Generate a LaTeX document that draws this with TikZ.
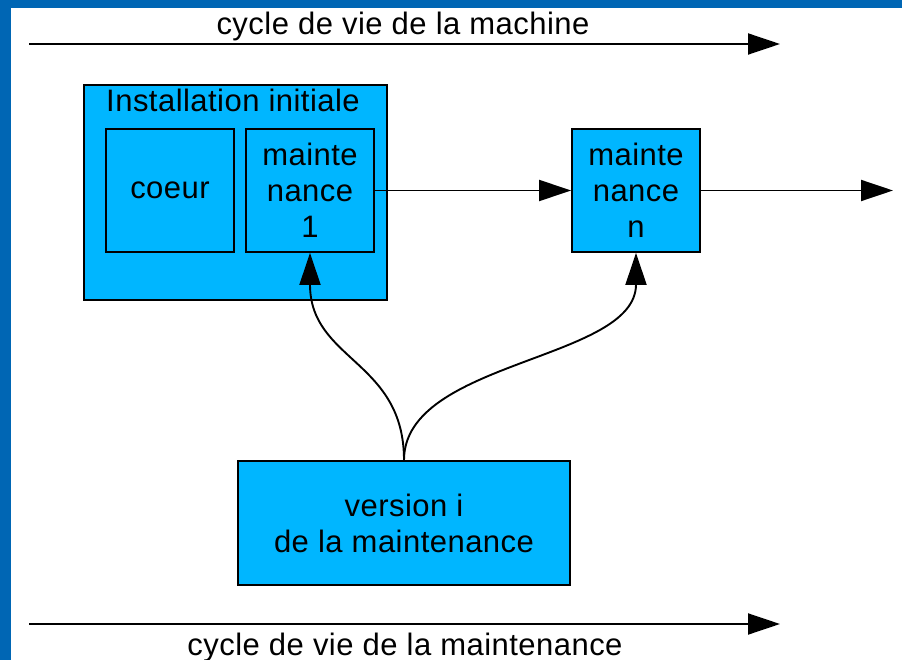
\documentclass[tikz,border=0pt]{standalone}
\usepackage{fontspec}
\setmainfont[LetterSpace=1.5]{Liberation Sans}
\usetikzlibrary{arrows.meta}
\definecolor{frameblue}{RGB}{0,102,180}
\definecolor{boxblue}{RGB}{0,182,255}
\tikzset{
  box/.style={rectangle,draw=black,fill=boxblue,line width=1.8pt,inner sep=0pt,align=center},
  arr/.style={line width=1.9pt,-{Triangle[length=32pt,width=21pt]}},
}
\begin{document}
\begin{tikzpicture}[x=1pt,y=-1pt,font=\fontsize{31}{36}\selectfont]
\useasboundingbox(0,0)rectangle(902,660);
%frame
\fill[frameblue](0,0)rectangle(902,660);
\fill[white](11,8)rectangle(902,660);
%machine life cycle
\coordinate(machstart)at(29,44);
\coordinate(machend)at(780,44);
\draw[arr](machstart)--(machend);
\node[anchor=base](machlabel)at(403,35){cycle de vie de la machine};
%initial installation
\node[box,minimum width=303pt,minimum height=215pt](install)at(235.5,192.5){};
\node[anchor=base](installlabel)at(233,112){Installation initiale};
\node[box,minimum width=128pt,minimum height=123pt](coeur)at(170,190.5){coeur};
\node[box,minimum width=128pt,minimum height=123pt](maintun)at(310,190.5){mainte\\nance\\1};
%later maintenance
\node[box,minimum width=128pt,minimum height=123pt](maintn)at(636,190.5){mainte\\nance\\n};
\coordinate(nend)at(893,190.5);
\draw[arr](maintun)--(maintn);
\draw[arr](maintn)--(nend);
%maintenance version
\node[box,minimum width=332pt,minimum height=124pt](version)at(404,523){version i\\de la maintenance};
\draw[arr](version.north)..controls +(0,-100) and +(0,108)..(maintun.south);
\draw[arr](version.north)..controls +(0,-100) and +(0,108)..(maintn.south);
%maintenance life cycle
\coordinate(maintstart)at(29,624);
\coordinate(maintend)at(780,624);
\draw[arr](maintstart)--(maintend);
\node[anchor=base](maintlabel)at(405,655){cycle de vie de la maintenance};
\end{tikzpicture}
\end{document}
